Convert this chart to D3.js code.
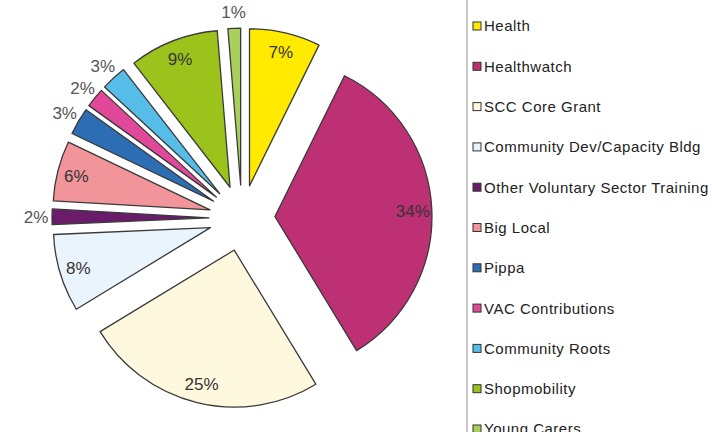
<!DOCTYPE html>
<html>
<head>
<meta charset="utf-8">
<script src="https://cdn.jsdelivr.net/npm/d3@7"></script>
<style>
  body { margin: 0; background: #fff; }
  svg { display: block; font-family: "Liberation Sans", Arial, sans-serif; }
</style>
</head>
<body>
<div id="chartDiv"></div>
<script>
// data (share of income, %)
var categories = ["Health", "Healthwatch", "SCC Core Grant", "Community Dev/Capacity Bldg",
                  "Other Voluntary Sector Training", "Big Local", "Pippa", "VAC Contributions",
                  "Community Roots", "Shopmobility", "Young Carers"];
var shares = [7.3, 34.0, 25.0, 8.0, 1.6, 6.2, 2.8, 2.0, 2.6, 9.2, 1.3];
var colors = ["#ffea00", "#bd3074", "#fef9de", "#eaf4fc", "#6a1b6a", "#f1959b",
              "#2d6db3", "#e2489a", "#56bde9", "#9cc31c", "#a9d05a"];

var width = 712, height = 432;
var cx = 242, cy = 218, radius = 157, explode = 33;

var svg = d3.select("#chartDiv").append("svg")
    .attr("width", width)
    .attr("height", height);

var rows = categories.map(function(c, i){ return {name: c, value: shares[i], color: colors[i]}; });

var pie = d3.pie().sort(null).value(function(d){ return d.value; });
var arc = d3.arc().innerRadius(0).outerRadius(radius);
var arcs = pie(rows);

function offset(d, dist) {
  var a = (d.startAngle + d.endAngle) / 2;
  return [dist * Math.sin(a), -dist * Math.cos(a)];
}

var pie_g = svg.append("g").attr("transform", "translate(" + cx + "," + cy + ")");

var slice = pie_g.selectAll(".slice").data(arcs).enter()
    .append("g").attr("class", "slice")
    .attr("transform", function(d){ var o = offset(d, explode); return "translate(" + o[0] + "," + o[1] + ")"; });

slice.append("path")
    .attr("d", arc)
    .attr("fill", function(d){ return d.data.color; })
    .style("stroke", "#3a3a3a")
    .style("stroke-width", 1.3)
    .style("stroke-linejoin", "round");

// labels: big slices inside, small ones just outside the rim
slice.append("text")
    .text(function(d){ return Math.round(d.data.value) + "%"; })
    .attr("text-anchor", "middle")
    .attr("dy", "0.36em")
    .attr("font-size", 17)
    .attr("fill", function(d){ return d.data.value < 5 ? "#555" : "#333"; })
    .attr("transform", function(d){
      var o = offset(d, d.data.value < 5 ? 173 : 138);
      return "translate(" + o[0] + "," + o[1] + ")";
    });

// legend
var legend_x = 467;
svg.append("line")
    .attr("x1", legend_x).attr("x2", legend_x)
    .attr("y1", 0).attr("y2", height)
    .style("stroke", "#c8c8c8")
    .style("stroke-width", 2);

var y_legend = d3.scalePoint().domain(categories).range([26, 429]);

var item = svg.append("g").selectAll(".legend").data(rows).enter()
    .append("g").attr("class", "legend")
    .attr("transform", function(d){ return "translate(" + (legend_x + 10) + "," + y_legend(d.name) + ")"; });

item.append("rect")
    .attr("x", -4).attr("y", -4)
    .attr("width", 8).attr("height", 8)
    .attr("fill", function(d){ return d.color; })
    .style("stroke", "#333")
    .style("stroke-width", 1);

item.append("text")
    .text(function(d){ return d.name; })
    .attr("x", 7)
    .attr("dy", "0.36em")
    .attr("font-size", 15)
    .attr("letter-spacing", 0.5)
    .attr("fill", "#222");
</script>
</body>
</html>
